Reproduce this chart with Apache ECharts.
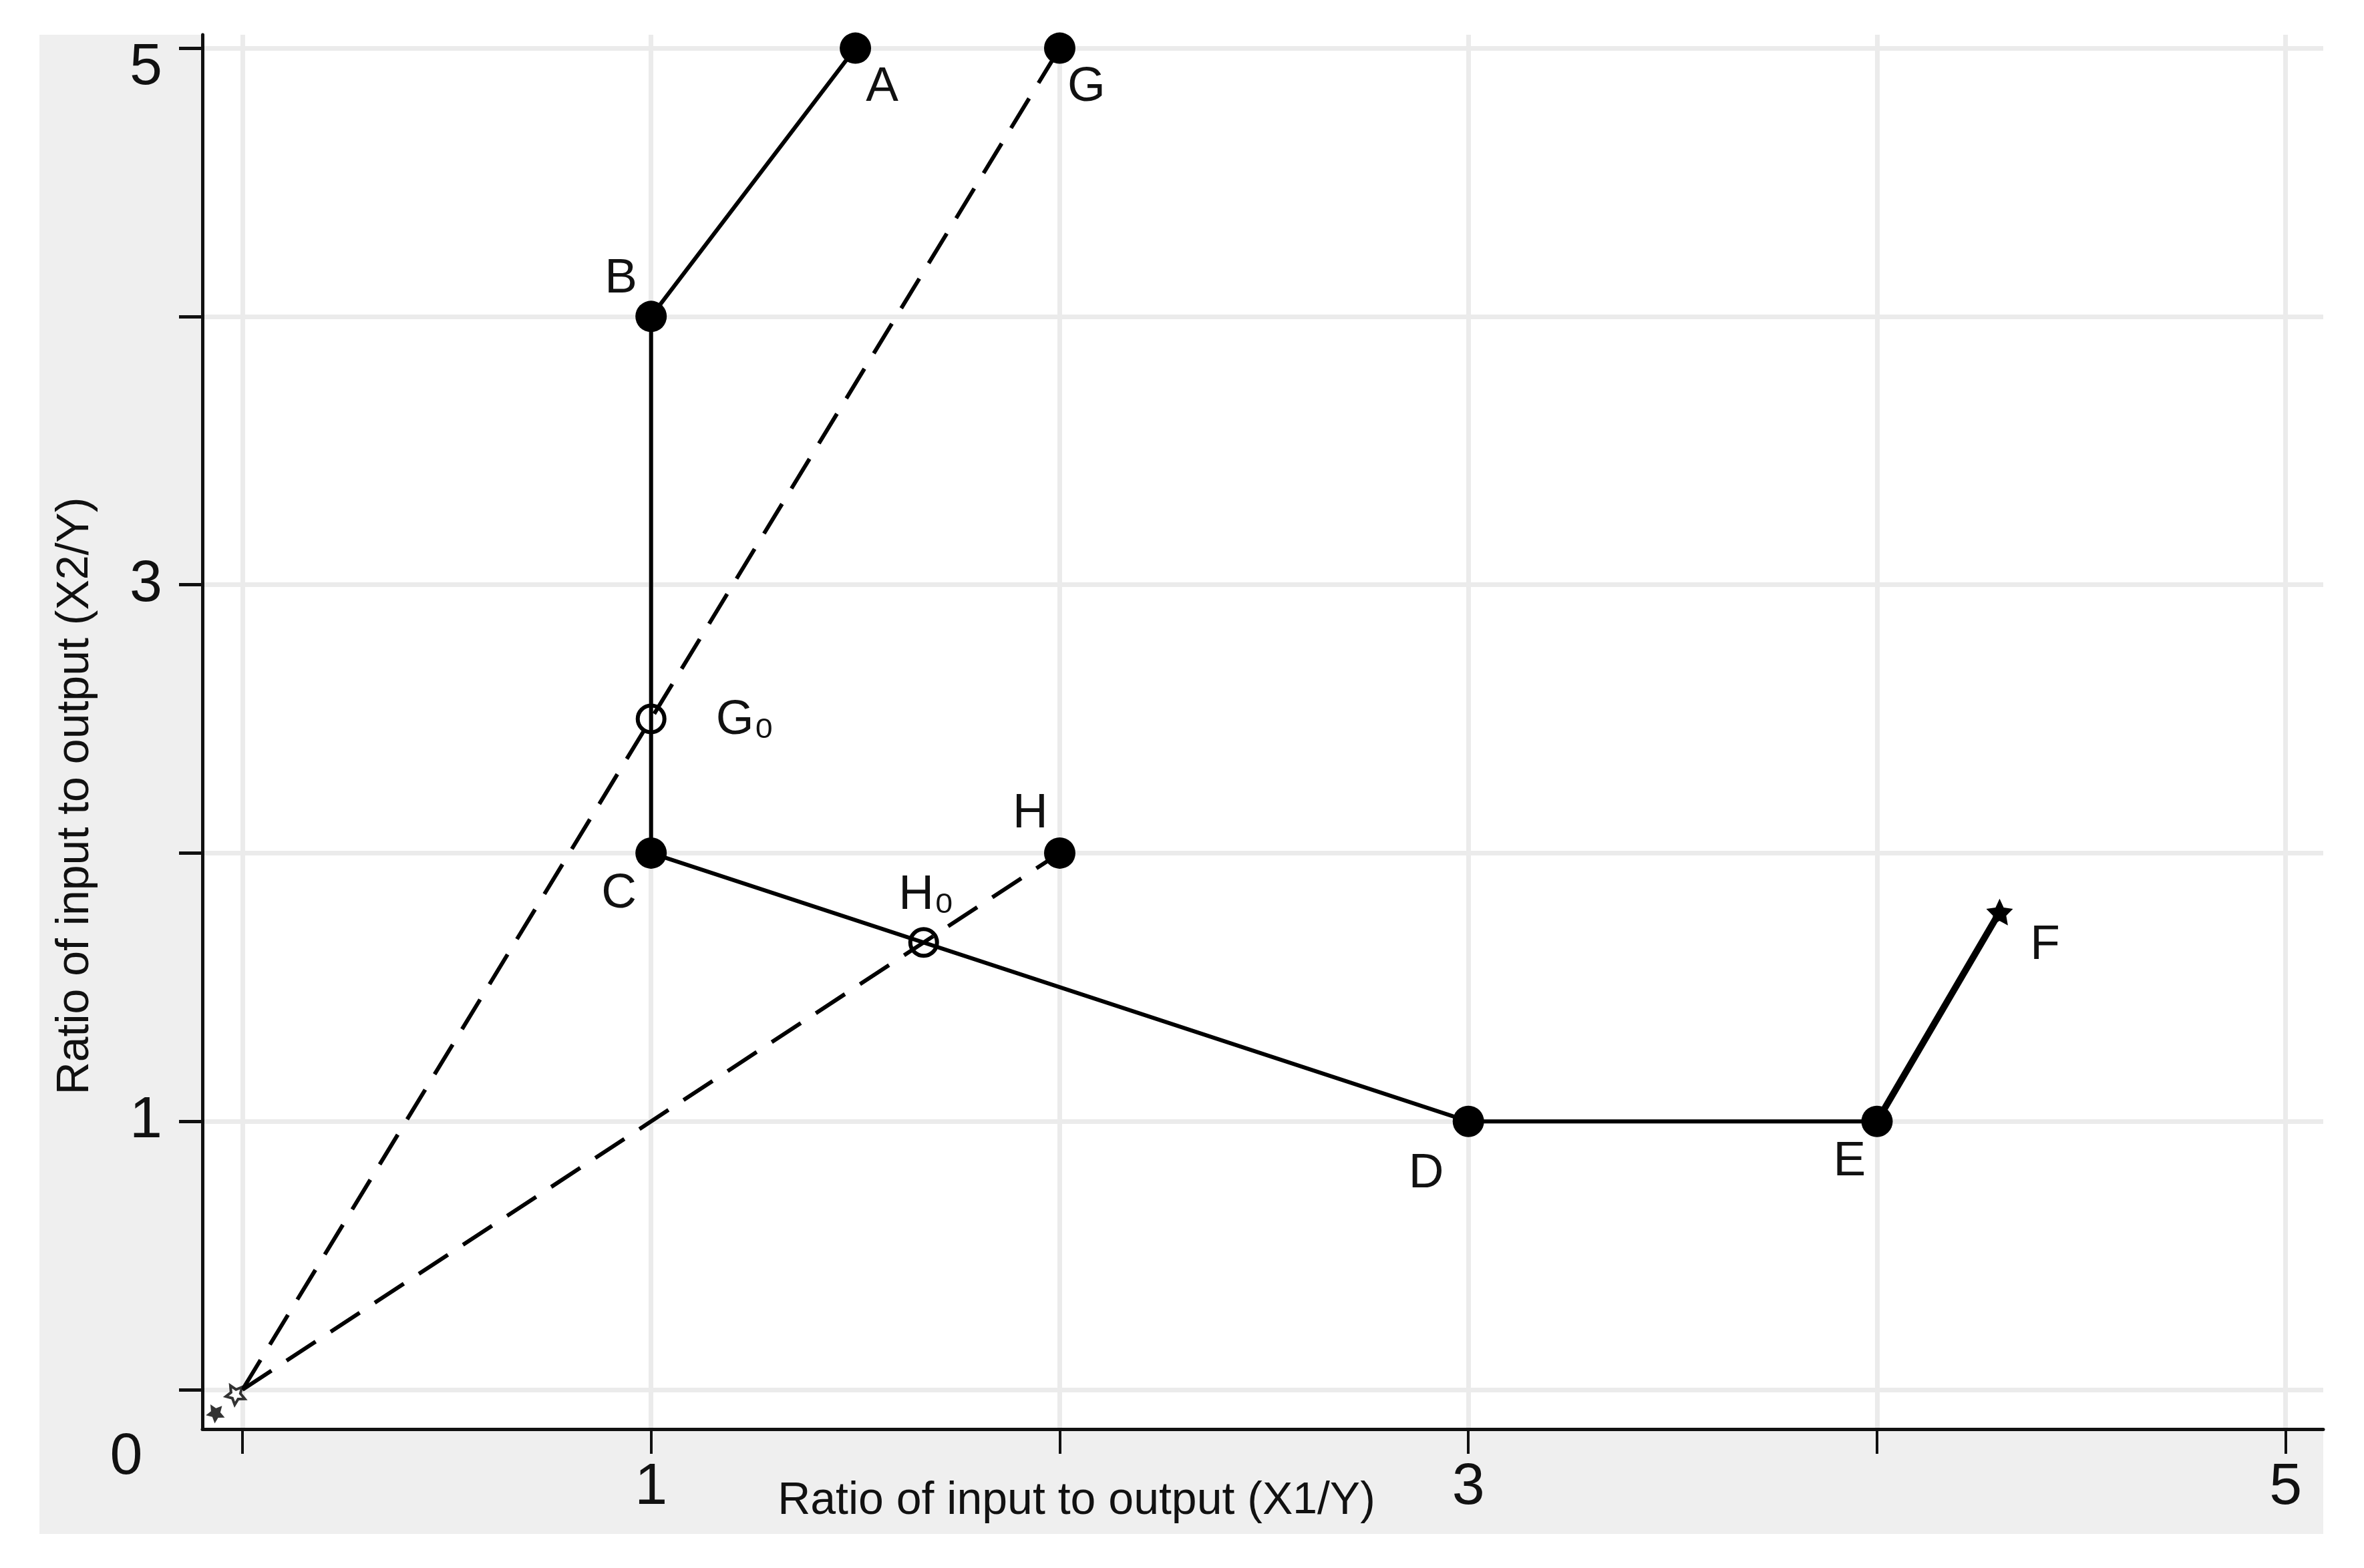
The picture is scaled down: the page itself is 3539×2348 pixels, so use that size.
<!DOCTYPE html>
<html><head><meta charset="utf-8">
<script src="https://cdn.jsdelivr.net/npm/echarts@6/dist/echarts.min.js"></script>
<style>html,body{margin:0;padding:0;background:#fff}#c{width:3539px;height:2348px}</style>
</head><body><div id="c"></div>
<script>
// ---- data ----
const pointNames = ['A', 'B', 'C', 'D', 'E', 'G', 'H'];
const pointX = [1.5, 1, 1, 3, 4, 2, 2];
const pointY = [5, 4, 2, 1, 1, 5, 2];
const frontierX = [1.5, 1, 1, 3, 4];
const frontierY = [5, 4, 2, 1, 1];
const tailX = [4, 4.3];
const tailY = [1, 1.78];
const rayGX = [0, 2], rayGY = [0, 5];
const rayHX = [0, 2], rayHY = [0, 2];
const projNames = ['G₀', 'H₀'];
const projX = [1, 1.667];
const projY = [2.5, 1.667];
const fNames = ['F'];
const fX = [4.3];
const fY = [1.78];
const originMarkX = [-0.067, -0.018];
const originMarkY = [-0.085, -0.015];
const xTicks = [0, 1, 2, 3, 4, 5];
const xTickLabels = [1, 3, 5];
const yTicks = [0, 1, 2, 3, 4, 5];
const yTickLabels = [1, 3, 5];
const xTitle = 'Ratio of input to output (X{s|1}/Y)';
const yTitle = 'Ratio of input to output (X{s|2}/Y)';
const cornerZero = '0';

// ---- styles ----
const labelOffsets = {
  A: [40, 59], G: [40, 59], B: [-45, -56], C: [-48, 61], D: [-63, 79],
  E: [-41, 61], H: [-44, -59], F: [68, 50], 'G₀': [97, 2], 'H₀': [4, -70]
};
const LF = "'Liberation Sans', Arial, sans-serif";
const zip = (xs, ys) => xs.map((x, i) => [x, ys[i]]);
const lbl = (n) => ({ show: true, position: 'inside', offset: labelOffsets[n], formatter: n,
  color: '#111', fontSize: 73, fontFamily: LF, align: n === 'G₀' ? 'left' : 'center', verticalAlign: 'middle' });
const starPath = 'path://M0,-10 L2.9,-4 L9.5,-3.1 L4.7,1.5 L5.9,8.1 L0,5 L-5.9,8.1 L-4.7,1.5 L-9.5,-3.1 L-2.9,-4 Z';

const chart = echarts.init(document.getElementById('c'), null, { renderer: 'canvas' });
chart.setOption({
  animation: false,
  backgroundColor: '#ffffff',
  graphic: [
    { type: 'rect', z: -100, shape: { x: 59, y: 52, width: 3419, height: 2245 }, style: { fill: '#efefef' }, silent: true },
    { type: 'rect', z: -99, shape: { x: 303, y: 52, width: 3175, height: 2088 }, style: { fill: '#ffffff' }, silent: true },
    { type: 'text', z: 10, x: 189, y: 2183, style: { text: cornerZero, fontSize: 88, fontFamily: LF, fill: '#111', align: 'center', verticalAlign: 'middle' } }
  ],
  grid: { left: 303, top: 52, right: 61, bottom: 208 },
  xAxis: {
    type: 'value', min: -0.098, max: 5.092,
    axisLine: { show: true, onZero: false, lineStyle: { color: '#111', width: 5 } },
    axisTick: { show: true, customValues: xTicks, length: 37, lineStyle: { color: '#111', width: 4 } },
    axisLabel: { customValues: xTickLabels, margin: 44, fontSize: 88, fontFamily: LF, color: '#111' },
    splitLine: { show: true, lineStyle: { color: '#ebebeb', width: 7 } },
    name: xTitle, nameLocation: 'middle', nameGap: 74, nameMoveOverlap: false,
    nameTextStyle: { fontSize: 68, fontFamily: LF, color: '#111', padding: [0, 558, 0, 0],
      rich: { s: { fontSize: 66, fontFamily: LF, color: '#111' } } }
  },
  yAxis: {
    type: 'value', min: -0.147, max: 5.05,
    axisLine: { show: true, onZero: false, lineStyle: { color: '#111', width: 5 } },
    axisTick: { show: true, customValues: yTicks, length: 35, lineStyle: { color: '#111', width: 5 } },
    axisLabel: { customValues: yTickLabels, margin: 60, fontSize: 88, fontFamily: LF, color: '#111',
      formatter: v => (v === 5 ? '{t|5}' : String(v)),
      rich: { t: { fontSize: 88, fontFamily: LF, color: '#111', padding: [60, 0, 0, 0] } } },
    splitLine: { show: true, lineStyle: { color: '#ebebeb', width: 7 } },
    name: yTitle, nameLocation: 'middle', nameGap: 156, nameMoveOverlap: false,
    nameTextStyle: { fontSize: 68, fontFamily: LF, color: '#111', padding: [0, 192, 0, 0],
      rich: { s: { fontSize: 66, fontFamily: LF, color: '#111' } } }
  },
  series: [
    { type: 'line', data: zip(frontierX, frontierY), symbol: 'none', z: 3,
      lineStyle: { color: '#000', width: 6 } },
    { type: 'line', data: zip(tailX, tailY), symbol: 'none', z: 3,
      lineStyle: { color: '#000', width: 10 } },
    { type: 'line', data: zip(rayGX, rayGY), symbol: 'none', z: 3,
      lineStyle: { color: '#000', width: 6, type: [52, 27] } },
    { type: 'line', data: zip(rayHX, rayHY), symbol: 'none', z: 3,
      lineStyle: { color: '#000', width: 6, type: [52, 27] } },
    { type: 'scatter', symbol: 'circle', symbolSize: 47, z: 4,
      itemStyle: { color: '#000', opacity: 1 },
      data: pointNames.map((n, i) => ({ name: n, value: [pointX[i], pointY[i]], label: lbl(n) })) },
    { type: 'scatter', symbol: 'circle', symbolSize: 40, z: 2,
      itemStyle: { color: 'rgba(0,0,0,0)', borderColor: '#000', borderWidth: 6, opacity: 1 },
      data: projNames.map((n, i) => ({ name: n, value: [projX[i], projY[i]], label: lbl(n) })) },
    { type: 'scatter', z: 4, symbol: starPath, symbolSize: 40,
      itemStyle: { color: '#000', opacity: 1 },
      data: fNames.map((n, i) => ({ name: n, value: [fX[i], fY[i]], label: lbl(n) })) },
    { type: 'scatter', z: 4, clip: false, symbol: starPath, symbolSize: 28, symbolRotate: 30,
      data: zip(originMarkX, originMarkY).map((v, i) => ({ value: v,
        itemStyle: i === 0 ? { color: '#000' } : { color: '#fff', borderColor: '#000', borderWidth: 4 } })) }
  ]
});
</script></body></html>
